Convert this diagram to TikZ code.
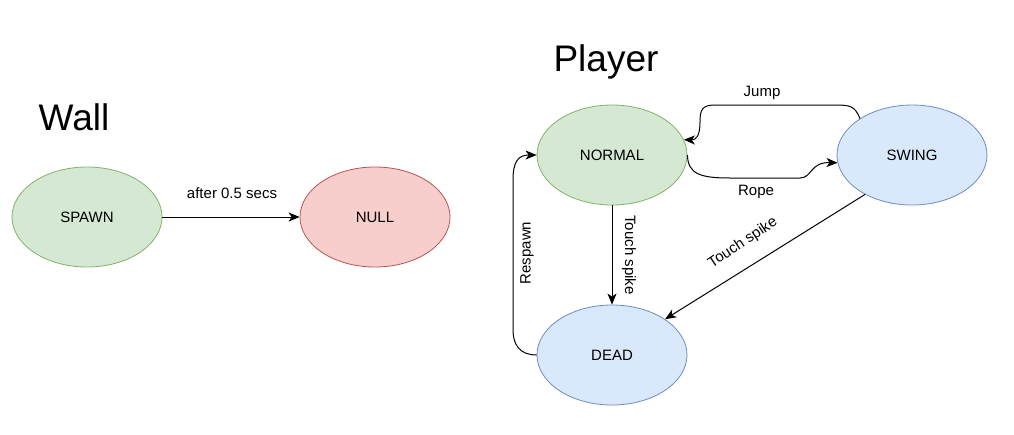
\documentclass[tikz,border=0pt]{standalone}
\usepackage{fontspec}
\setmainfont{Liberation Sans}
\usetikzlibrary{shapes.geometric,arrows.meta}
\definecolor{gfill}{HTML}{D5E8D4}\definecolor{gline}{HTML}{82B366}
\definecolor{rfill}{HTML}{F8CECC}\definecolor{rline}{HTML}{B85450}
\definecolor{bfill}{HTML}{DAE8FC}\definecolor{bline}{HTML}{6C8EBF}
\begin{document}
\begin{tikzpicture}[x=1pt,y=-1pt,
  st/.style={ellipse,minimum width=150pt,minimum height=100pt,inner sep=0pt,font=\fontsize{15}{18}\selectfont,line width=0.8pt},
  green/.style={st,draw=gline,fill=gfill},
  red/.style={st,draw=rline,fill=rfill},
  blue/.style={st,draw=bline,fill=bfill},
  lbl/.style={font=\fontsize{15}{18}\selectfont,inner sep=0pt},
  ttl/.style={font=\fontsize{37}{44}\selectfont,inner sep=0pt},
  conn/.style={line width=1pt,-{Stealth[length=11pt,width=9pt,inset=3pt]}}]
\useasboundingbox (0,0) rectangle (1014,434);
\node[ttl] (wall) at (74,117) {Wall};
\node[ttl] (player) at (606,62) {Player};
\node[green] (sp) at (87,217) {SPAWN};
\node[red] (nu) at (375,217) {NULL};
\node[green] (N) at (612,155) {NORMAL};
\node[blue] (S) at (912,155) {SWING};
\node[blue] (D) at (612,355) {DEAD};
\draw[conn] (sp) -- (nu);
\node[lbl] (l1) at (232,193) {after 0.5 secs};
\draw[conn] (N.east) .. controls (688,174) and (700,178) .. (730,178) -- (800,178) .. controls (812,178) and (810,162) .. (S.186);
\node[lbl] (l2) at (756,192) {Rope};
\draw[conn] (S.145) .. controls (855,106) and (850,105) .. (835,105) -- (715,105) .. controls (702,105) and (700,110) .. (700,122) .. controls (700,136) and (696,140) .. (N.12);
\node[lbl] (l3) at (762,93) {Jump};
\draw[conn] (N.south) -- (D.north);
\node[lbl,rotate=-90] (l4) at (629,255) {Touch spike};
\draw[conn] (S.220) -- (D.34);
\node[lbl,rotate=33.5] (l5) at (743,243) {Touch spike};
\draw[conn] (D.west) .. controls (520,355) and (513,345) .. (513,330) -- (513,180) .. controls (513,162) and (518,155) .. (N.west);
\node[lbl,rotate=90] (l6) at (527,253) {Respawn};
\end{tikzpicture}
\end{document}
